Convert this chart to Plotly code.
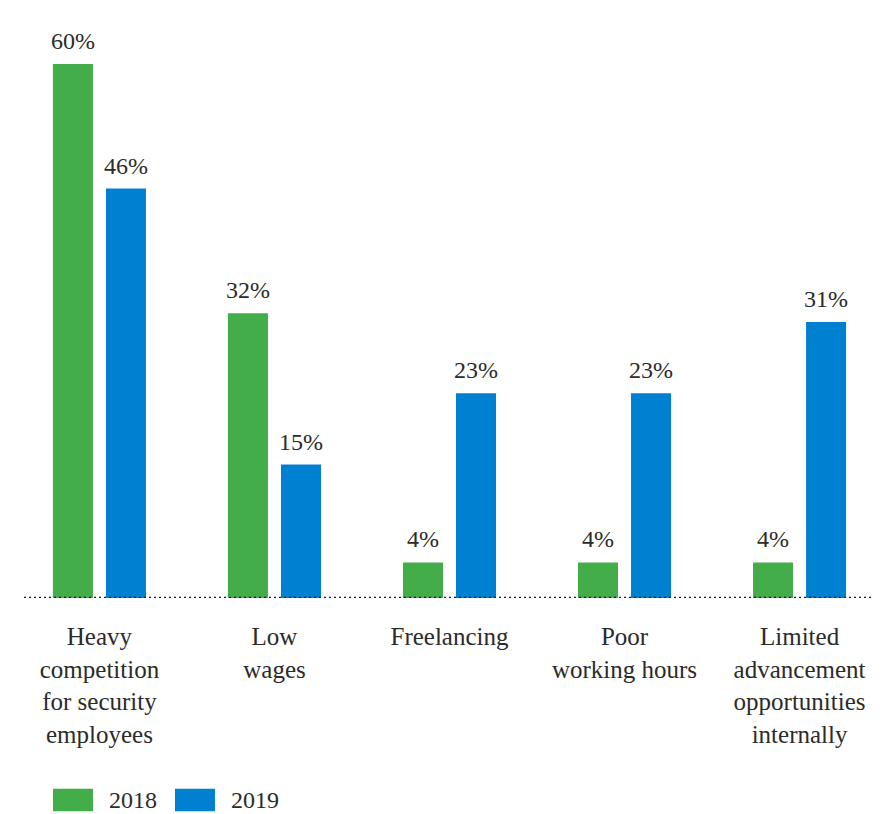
import plotly.graph_objects as go

categories = [
    "Heavy<br>competition<br>for security<br>employees",
    "Low<br>wages",
    "Freelancing",
    "Poor<br>working hours",
    "Limited<br>advancement<br>opportunities<br>internally",
]
series_names = ["2018", "2019"]
values_2018 = [60, 32, 4, 4, 4]
values_2019 = [46, 15, 23, 23, 31]

green = "#43AD4A"
blue = "#0080D1"
text_color = "#2b2b2b"
font_family = "Liberation Serif, Times New Roman, serif"

fig = go.Figure()
for name, vals, col in [(series_names[0], values_2018, green), (series_names[1], values_2019, blue)]:
    fig.add_trace(go.Bar(
        x=categories, y=vals, name=name, marker=dict(color=col, line=dict(width=0)),
        showlegend=False,
    ))

# value labels above bars
slot_px = 26.5
for vals, shift in [(values_2018, -slot_px), (values_2019, slot_px)]:
    for c, v in zip(categories, vals):
        fig.add_annotation(
            x=c, y=v, text=f"{v}%", showarrow=False, xshift=shift, yshift=8,
            yanchor="bottom", xanchor="center",
            font=dict(family=font_family, size=24, color=text_color),
        )

# dotted baseline
fig.add_shape(type="line", xref="paper", x0=0, x1=1, yref="y", y0=0, y1=0,
              line=dict(color="#1a1a1a", width=2.5, dash="2px,3px"))

# custom legend
legend_items = [(series_names[0], green, 0.0341, 0.0811, 0.0975),
                (series_names[1], blue, 0.1774, 0.2244, 0.2409)]
for name, col, x0, x1, tx in legend_items:
    fig.add_shape(type="rect", xref="paper", yref="paper", x0=x0, x1=x1,
                  y0=-0.382, y1=-0.342, fillcolor=col, line=dict(width=0))
    fig.add_annotation(xref="paper", yref="paper", x=tx, y=-0.362, text=name,
                       showarrow=False, xanchor="left", yanchor="middle",
                       font=dict(family=font_family, size=24, color=text_color))

fig.update_layout(
    width=874, height=806,
    margin=dict(l=16, r=7, t=32, b=216),
    paper_bgcolor="white", plot_bgcolor="white",
    barmode="group", bargap=0.394, bargroupgap=0.245,
    font=dict(family=font_family, size=25, color=text_color),
    xaxis=dict(range=[-0.431, 4.431], showgrid=False, zeroline=False, showline=False,
               ticks="outside", ticklen=16, tickcolor="rgba(0,0,0,0)",
               tickfont=dict(family=font_family, size=25, color=text_color)),
    yaxis=dict(range=[0, 62.7], visible=False, showgrid=False, zeroline=False),
)

fig.write_html("out.html")
